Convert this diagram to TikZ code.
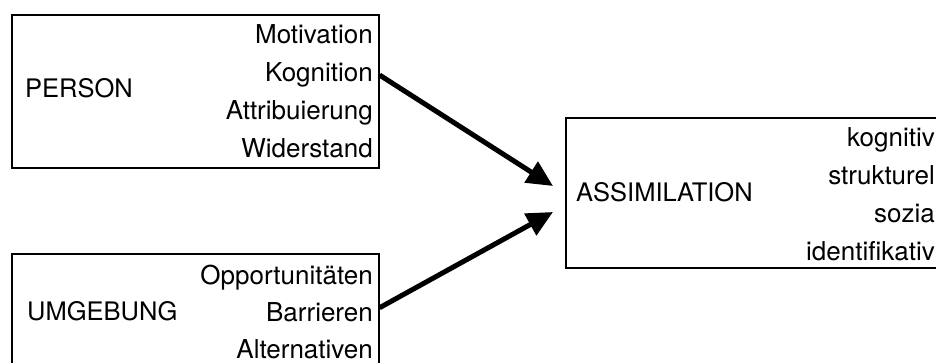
\documentclass[tikz,border=0pt]{standalone}
\usepackage{fontspec}
\setmainfont{TeX Gyre Heros}
\usetikzlibrary{arrows.meta}

\begin{document}
\begin{tikzpicture}[x=1pt, y=-1pt,
    box/.style={draw, line width=1.6pt, anchor=north west, inner sep=0pt},
    item/.style={anchor=base east, inner sep=0pt, font=\fontsize{26}{31}\selectfont},
    head/.style={anchor=base west, inner sep=0pt, font=\fontsize{25.5}{31}\selectfont},
    link/.style={line width=5pt, -{Triangle[length=26pt,width=24pt]}}]
    \useasboundingbox (0,0) rectangle (936,363);
    \clip (0,0) rectangle (936,363);
    % boxes
    \node[box, minimum width=367pt, minimum height=153pt] (person) at (11,14) {};
    \node[box, minimum width=367pt, minimum height=153pt] (umgebung) at (11,253) {};
    \node[box, minimum width=393pt, minimum height=150pt] (assim) at (565,117) {};
    % headings
    \node[head] (personlbl) at (25,98) {PERSON};
    \node[head] (umgebunglbl) at (27,320) {UMGEBUNG};
    \node[head] (assimlbl) at (576,202) {ASSIMILATION};
    % items
    \foreach \txt [count=\i] in {Motivation, Kognition, Attribuierung, Widerstand}
        \node[item] (p\i) at (373, {6.3+37.7*\i}) {\txt};
    \foreach \txt [count=\i] in {Opportunitäten, Barrieren, Alternativen}
        \node[item] (u\i) at (373, {247+37*\i}) {\txt};
    \foreach \txt [count=\i] in {kognitiv, strukturel, sozia, identifikativ}
        \node[item] (a\i) at (935, {109.3+37.7*\i}) {\txt};
    % arrows
    \coordinate (tipA) at (553,186);
    \coordinate (tipB) at (553,212);
    \draw[link] (person.east |- p2.center) -- (tipA);
    \draw[link] ([yshift=4pt]umgebung.east |- u2.center) -- (tipB);
\end{tikzpicture}
\end{document}
